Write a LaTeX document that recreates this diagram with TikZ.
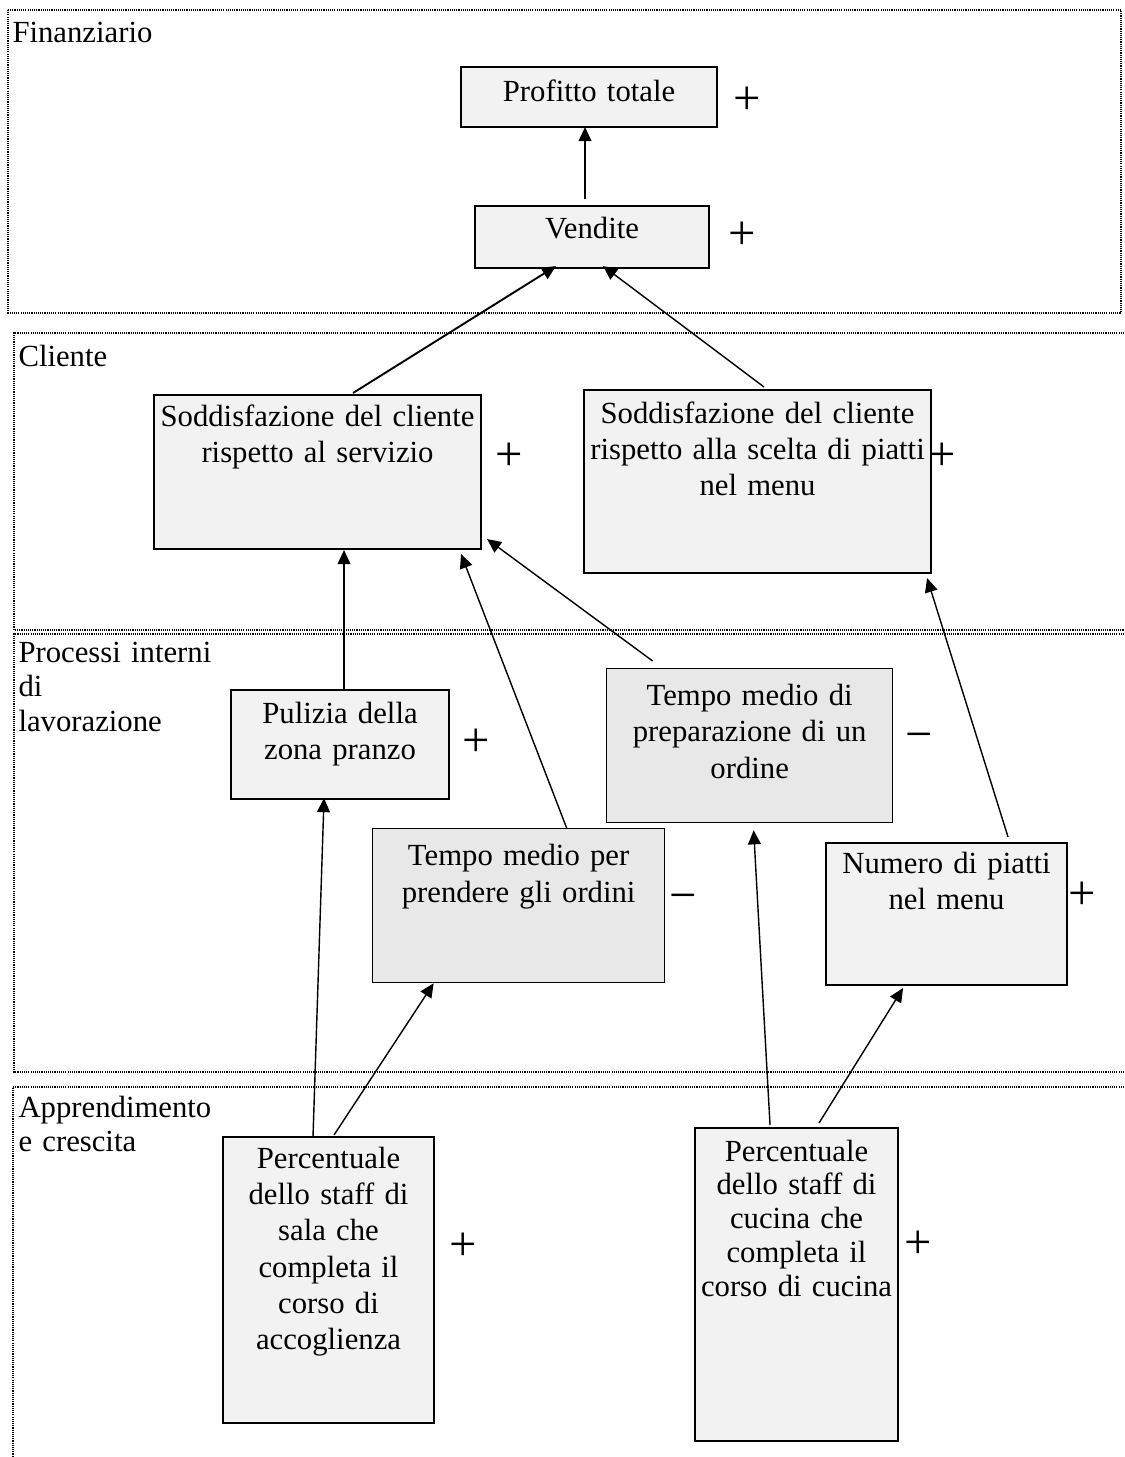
\documentclass[tikz,border=0pt]{standalone}
\usepackage{fontspec}
\setmainfont{Liberation Serif}
\usetikzlibrary{calc,arrows.meta}

\definecolor{boxchiaro}{HTML}{F2F2F2}
\definecolor{boxscuro}{HTML}{E8E8E8}
\newcommand{\pxu}{0.390625pt}

\tikzset{
	panel/.style={line width=0.55pt,dash pattern=on 0.45pt off 0.4pt},
	% box: larghezza, distanza della prima riga, resto dell'altezza
	kpi/.style n args={3}{draw,line width=0.8pt,fill=boxchiaro,inner sep=0pt,align=center,anchor=north west,
		text width=#1*\pxu,text height=#2*\pxu,text depth=#3*\pxu},
	kpiscuro/.style={fill=boxscuro,line width=0.5pt},
	segno/.style={font=\fontsize{19}{19}\selectfont,inner sep=0pt},
	lbl/.style={anchor=base west,align=left,inner sep=0pt,text width=200*\pxu,
		font=\fontsize{12}{13.6}\selectfont},
	arr/.style={-{Triangle[length=5.5pt,width=5pt]},line width=0.55pt},
}

\begin{document}
\begin{tikzpicture}[x=\pxu,y=-\pxu,font=\fontsize{12}{14.2}\selectfont]
		\useasboundingbox (0,0) rectangle (1124,1457);
		% riquadri delle quattro prospettive
		\draw[panel] (8,10) rectangle (1121,313);
		\draw[panel] (1124,333) -- (14,333) -- (14,630) -- (1124,630);
		\draw[panel] (1124,634) -- (14,634) -- (14,1072) -- (1124,1072);
		\draw[panel] (1124,1087) -- (13,1087) -- (13,1457);
		\node[lbl] (lblFin) at (12,43) {Finanziario};
		\node[lbl] (lblCli) at (18,367) {Cliente};
		\node[lbl] (lblProc) at (18,662) {Processi interni\\di\\lavorazione};
		\node[lbl] (lblAppr) at (18,1117) {Apprendimento\\e crescita};
		% indicatori
		\node[kpi={256}{34}{26}] (prof) at (460,66) {Profitto totale};
		\node[kpi={234}{32}{30}] (vend) at (474,205) {Vendite};
		\node[kpi={327}{31}{123}] (serv) at (153,394) {Soddisfazione del cliente\\rispetto al servizio};
		\node[kpi={347}{33}{150}] (menu) at (583,389) {Soddisfazione del cliente\\rispetto alla scelta di piatti\\nel menu};
		\node[kpi={218}{33}{76}] (pul) at (230,689) {Pulizia della\\zona pranzo};
		\node[kpi={286}{37}{117},kpiscuro] (prep) at (606,668) {Tempo medio di\\preparazione di un\\ordine};
		\node[kpi={292}{37}{117},kpiscuro] (prend) at (372,828) {Tempo medio per\\prendere gli ordini};
		\node[kpi={241}{30}{112}] (num) at (825,842) {Numero di piatti\\nel menu};
		\node[kpi={211}{31}{255}] (sala) at (222,1136) {Percentuale\\dello staff di\\sala che\\completa il\\corso di\\accoglienza};
		\node[kpi={203}{33}{280},font=\fontsize{12}{13.2}\selectfont] (cuc) at (694,1127) {Percentuale\\dello staff di\\cucina che\\completa il\\corso di cucina};
		% segni
		\node[segno] (sProf) at (747,101) {+};
		\node[segno] (sVend) at (742,236) {+};
		\node[segno] (sServ) at (509,457) {+};
		\node[segno] (sMenu) at (942,457) {+};
		\node[segno] (sPul) at (476,743) {+};
		\node[segno] (sPrep) at (919,742) {−};
		\node[segno] (sPrend) at (683,903) {−};
		\node[segno] (sNum) at (1082,896) {+};
		\node[segno] (sSala) at (463,1247) {+};
		\node[segno] (sCuc) at (918,1245) {+};
		% relazioni causa-effetto
		\draw[arr] ($(vend.north)+(-7,-6)$) -- ($(prof.south)+(-4,-1)$);
		\draw[arr,line width=0.75pt] ($(serv.north)+(35.5,-1)$) -- ($(vend.south)+(-36,-3)$);
		\draw[arr] ($(menu.north)+(6.5,-2)$) -- ($(vend.south)+(11,-3)$);
		\draw[arr] ($(pul.north)+(4,0)$) -- ($(serv.south)+(26.5,0)$);
		\draw[arr] ($(prend.north)+(48,0)$) -- ($(serv.south east)+(-21,4)$);
		\draw[arr] ($(prep.north)+(-97,-7)$) -- ($(serv.south east)+(5,-11)$);
		\draw[arr] ($(num.north)+(61.5,-5)$) -- ($(menu.south east)+(-5,4)$);
		\draw[arr] ($(sala.north)+(-15.5,0)$) -- ($(pul.south)+(-16,-2)$);
		\draw[arr] ($(sala.north)+(5.5,-1)$) -- ($(prend.south)+(-85,0)$);
		\draw[arr] ($(cuc.north)+(-26.5,-2)$) -- ($(prep.south)+(4,7)$);
		\draw[arr] ($(cuc.north)+(22.5,-4)$) -- ($(num.south)+(-43.5,2)$);
\end{tikzpicture}
\end{document}
